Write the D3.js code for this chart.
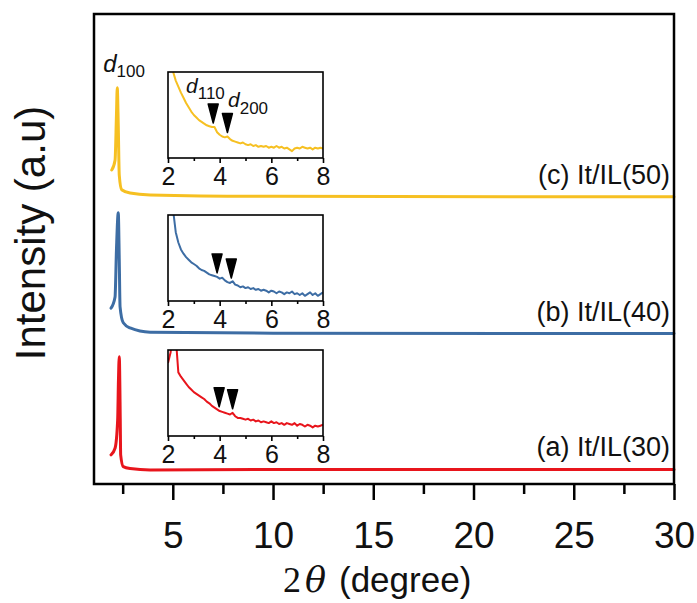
<!DOCTYPE html>
<html lang="en">
<head>
<meta charset="utf-8">
<title>XRD patterns</title>
<script src="https://d3js.org/d3.v7.min.js"></script>
<style>
body { margin: 0; background: #fff; }
svg { display: block; font-family: "Liberation Sans", Arial, sans-serif; }
</style>
</head>
<body>
<div id="chart"></div>
<script>

// ---------------- data ----------------
var seriesNames = ["(a) It/IL(30)", "(b) It/IL(40)", "(c) It/IL(50)"];
var seriesColors = ["#e8151c", "#3d6da4", "#f6c022"];

// main pattern (2theta, stacked intensity a.u.)
var redTheta = [1.92, 2.12, 2.25, 2.29, 2.33, 2.38, 2.40, 2.53, 2.87, 3.87, 10, 30];
var redInt   = [0.62, 0.76, 1.36, 2.21, 2.71, 1.36, 0.62, 0.37, 0.33, 0.30, 0.31, 0.31];
var blueTheta = [1.92, 2.12, 2.19, 2.28, 2.33, 2.37, 2.53, 2.87, 3.87, 10, 30];
var blueInt   = [3.74, 3.98, 4.98, 5.77, 4.77, 3.77, 3.43, 3.32, 3.23, 3.21, 3.20];
var yellowTheta = [1.955, 2.12, 2.19, 2.23, 2.28, 2.33, 2.45, 2.87, 3.87, 10, 30];
var yellowInt   = [6.68, 6.89, 7.85, 8.43, 7.64, 6.57, 6.26, 6.19, 6.15, 6.12, 6.11];

// insets: 2theta from 2 to 8, step 0.1 (normalised intensity)
var insetTheta = d3.range(61).map(function(i) { return 2 + i / 10; });
var redInset = [0.85, 0.97, 1.30, 1.15, 0.74, 0.69, 0.65, 0.61, 0.57, 0.54,
  0.51, 0.49, 0.47, 0.45, 0.43, 0.40, 0.38, 0.35, 0.33, 0.31,
  0.29, 0.28, 0.27, 0.26, 0.25, 0.27, 0.23, 0.21, 0.21, 0.20,
  0.19, 0.20, 0.18, 0.19, 0.17, 0.18, 0.16, 0.17, 0.16, 0.15,
  0.17, 0.15, 0.16, 0.14, 0.15, 0.13, 0.15, 0.14, 0.13, 0.15,
  0.12, 0.14, 0.13, 0.11, 0.13, 0.12, 0.10, 0.12, 0.11, 0.12, 0.13];
var blueInset = [2.50, 1.80, 1.05, 0.80, 0.68, 0.60, 0.55, 0.51, 0.48, 0.45,
  0.43, 0.41, 0.38, 0.36, 0.35, 0.33, 0.31, 0.30, 0.29, 0.28,
  0.26, 0.27, 0.24, 0.22, 0.21, 0.23, 0.19, 0.18, 0.16, 0.17,
  0.15, 0.16, 0.14, 0.15, 0.13, 0.14, 0.12, 0.13, 0.12, 0.10,
  0.12, 0.11, 0.09, 0.11, 0.10, 0.08, 0.10, 0.09, 0.11, 0.08,
  0.09, 0.07, 0.09, 0.06, 0.08, 0.10, 0.07, 0.09, 0.06, 0.08, 0.10];
var yellowInset = [1.90, 1.45, 1.00, 0.90, 0.83, 0.76, 0.70, 0.64, 0.59, 0.54,
  0.50, 0.47, 0.44, 0.42, 0.40, 0.38, 0.37, 0.36, 0.36, 0.30,
  0.27, 0.25, 0.24, 0.25, 0.22, 0.20, 0.19, 0.18, 0.17, 0.18,
  0.16, 0.15, 0.16, 0.14, 0.15, 0.13, 0.14, 0.13, 0.14, 0.12,
  0.13, 0.12, 0.14, 0.12, 0.13, 0.11, 0.12, 0.10, 0.08, 0.11,
  0.12, 0.11, 0.13, 0.12, 0.11, 0.12, 0.10, 0.12, 0.11, 0.12, 0.11];

// d110 / d200 marker positions (2theta) in each inset
var redArrows = [3.98, 4.50];
var blueArrows = [3.90, 4.45];
var yellowArrows = [3.75, 4.30];

var xTicks = [5, 10, 15, 20, 25, 30];
var xMinorTicks = [2.5, 7.5, 12.5, 17.5, 22.5, 27.5];
var insetTicks = [2, 4, 6, 8];
var insetMinorTicks = [3, 5, 7];

var mainData = [
  {theta: redTheta, val: redInt, inset: redInset, arrows: redArrows},
  {theta: blueTheta, val: blueInt, inset: blueInset, arrows: blueArrows},
  {theta: yellowTheta, val: yellowInt, inset: yellowInset, arrows: yellowArrows}
];

// ---------------- layout ----------------
var W = 697, H = 603;
var frame = {left: 94, right: 674, top: 14, bottom: 484};

var svg = d3.select("#chart").append("svg")
  .attr("width", W).attr("height", H);

var x = d3.scaleLinear().domain([1.07, 30]).range([frame.left, frame.right]);
var y = d3.scaleLinear().domain([0, 10]).range([frame.bottom, frame.top]);

var line = d3.line().curve(d3.curveMonotoneX);

// curves
mainData.forEach(function(s, i) {
  var pts = s.theta.map(function(t, k) { return [x(t), y(s.val[k])]; });
  svg.append("path")
    .attr("d", line(pts))
    .attr("fill", "none")
    .attr("stroke", seriesColors[i])
    .attr("stroke-width", 3)
    .attr("stroke-linejoin", "round")
    .attr("stroke-linecap", "round");

  // series label
  svg.append("text")
    .attr("x", frame.right - 4)
    .attr("y", y(s.val[s.val.length - 1]) - 13)
    .attr("text-anchor", "end")
    .attr("font-size", 27)
    .attr("fill", "#111")
    .text(seriesNames[i]);
});

// frame
svg.append("rect")
  .attr("x", frame.left).attr("y", frame.top)
  .attr("width", frame.right - frame.left)
  .attr("height", frame.bottom - frame.top)
  .attr("fill", "none").attr("stroke", "#000").attr("stroke-width", 2.5);

// x axis
var xAxis = svg.append("g")
  .attr("transform", "translate(0," + frame.bottom + ")")
  .call(d3.axisBottom(x).tickValues(xTicks).tickSize(16).tickPadding(22));
xAxis.select(".domain").remove();
xAxis.selectAll("line").attr("stroke-width", 2.5);
xAxis.selectAll("text").attr("font-size", 37).attr("font-family", "Liberation Sans, Arial, sans-serif").attr("fill", "#111");

var xMinor = svg.append("g")
  .attr("transform", "translate(0," + frame.bottom + ")")
  .call(d3.axisBottom(x).tickValues(xMinorTicks).tickSize(10).tickFormat(""));
xMinor.select(".domain").remove();
xMinor.selectAll("line").attr("stroke-width", 2.5);

// axis titles
var xt = svg.append("text")
  .attr("y", 592)
  .attr("fill", "#111");
xt.append("tspan").attr("x", 283).attr("font-family", "Liberation Serif, serif").attr("font-size", 36).text("2");
xt.append("tspan").attr("x", 305).attr("font-family", "DejaVu Serif, serif").attr("font-style", "italic").attr("font-size", 35).text("\u03B8");
xt.append("tspan").attr("x", 339).attr("font-size", 35).text("(degree)");

svg.append("text")
  .attr("transform", "translate(45," + ((frame.top + frame.bottom) / 2 - 16) + ") rotate(-90)")
  .attr("text-anchor", "middle")
  .attr("font-size", 42)
  .attr("fill", "#111")
  .text("Intensity (a.u)");

// d100 label
var yPeak = d3.max(yellowInt);
var d100 = svg.append("text")
  .attr("x", x(yellowTheta[yellowInt.indexOf(yPeak)]) - 14)
  .attr("y", y(yPeak) - 16)
  .attr("fill", "#111");
d100.append("tspan").attr("font-style", "italic").attr("font-size", 24).text("d");
d100.append("tspan").attr("font-size", 17).attr("dy", 5).text("100");

// ---------------- insets ----------------
var insetTops = [350, 215, 72];
var insetH = 86;
var ix = d3.scaleLinear().domain([2, 8]).range([168, 323]);
var insetLine = d3.line();

mainData.forEach(function(s, i) {
  var top = insetTops[i], bottom = top + insetH;
  var iy = d3.scaleLinear().domain([0, 1]).range([bottom, top]);
  var g = svg.append("g");

  g.append("clipPath").attr("id", "clip" + i)
    .append("rect")
    .attr("x", ix(2)).attr("y", top)
    .attr("width", ix(8) - ix(2)).attr("height", insetH);

  g.append("rect")
    .attr("x", ix(2)).attr("y", top)
    .attr("width", ix(8) - ix(2)).attr("height", insetH)
    .attr("fill", "#fff");

  var pts = insetTheta.map(function(t, k) { return [ix(t), iy(s.inset[k])]; });
  g.append("path")
    .attr("d", insetLine(pts))
    .attr("clip-path", "url(#clip" + i + ")")
    .attr("fill", "none")
    .attr("stroke", seriesColors[i])
    .attr("stroke-width", 2)
    .attr("stroke-linejoin", "round");

  g.append("rect")
    .attr("x", ix(2)).attr("y", top)
    .attr("width", ix(8) - ix(2)).attr("height", insetH)
    .attr("fill", "none").attr("stroke", "#000").attr("stroke-width", 1.6);

  var ax = g.append("g")
    .attr("transform", "translate(0," + bottom + ")")
    .call(d3.axisBottom(ix).tickValues(insetTicks).tickSize(5).tickPadding(4).tickFormat(d3.format("d")));
  ax.select(".domain").remove();
  ax.selectAll("line").attr("stroke-width", 1.6);
  ax.selectAll("text").attr("font-size", 25).attr("font-family", "Liberation Sans, Arial, sans-serif").attr("fill", "#111");

  var axm = g.append("g")
    .attr("transform", "translate(0," + bottom + ")")
    .call(d3.axisBottom(ix).tickValues(insetMinorTicks).tickSize(3).tickFormat(""));
  axm.select(".domain").remove();
  axm.selectAll("line").attr("stroke-width", 1.6);

  // arrow markers above the curve
  var interp = d3.scaleLinear().domain(insetTheta).range(s.inset);
  s.arrows.forEach(function(t) {
    g.append("path")
      .attr("transform", "translate(" + ix(t) + "," + (iy(interp(t)) - 4) + ")")
      .attr("d", "M-5,-19L5,-19L0,0Z")
      .attr("fill", "#000")
      .attr("stroke", "#000")
      .attr("stroke-width", 1.5)
      .attr("stroke-linejoin", "round");
  });
});

// d110 / d200 labels in the top inset
var d110 = svg.append("text").attr("x", 186).attr("y", 93).attr("fill", "#111");
d110.append("tspan").attr("font-style", "italic").attr("font-size", 21).text("d");
d110.append("tspan").attr("font-size", 17).attr("dy", 6).text("110");
var d200 = svg.append("text").attr("x", 228).attr("y", 107).attr("fill", "#111");
d200.append("tspan").attr("font-style", "italic").attr("font-size", 21).text("d");
d200.append("tspan").attr("font-size", 17).attr("dy", 7).text("200");

</script>
</body>
</html>
